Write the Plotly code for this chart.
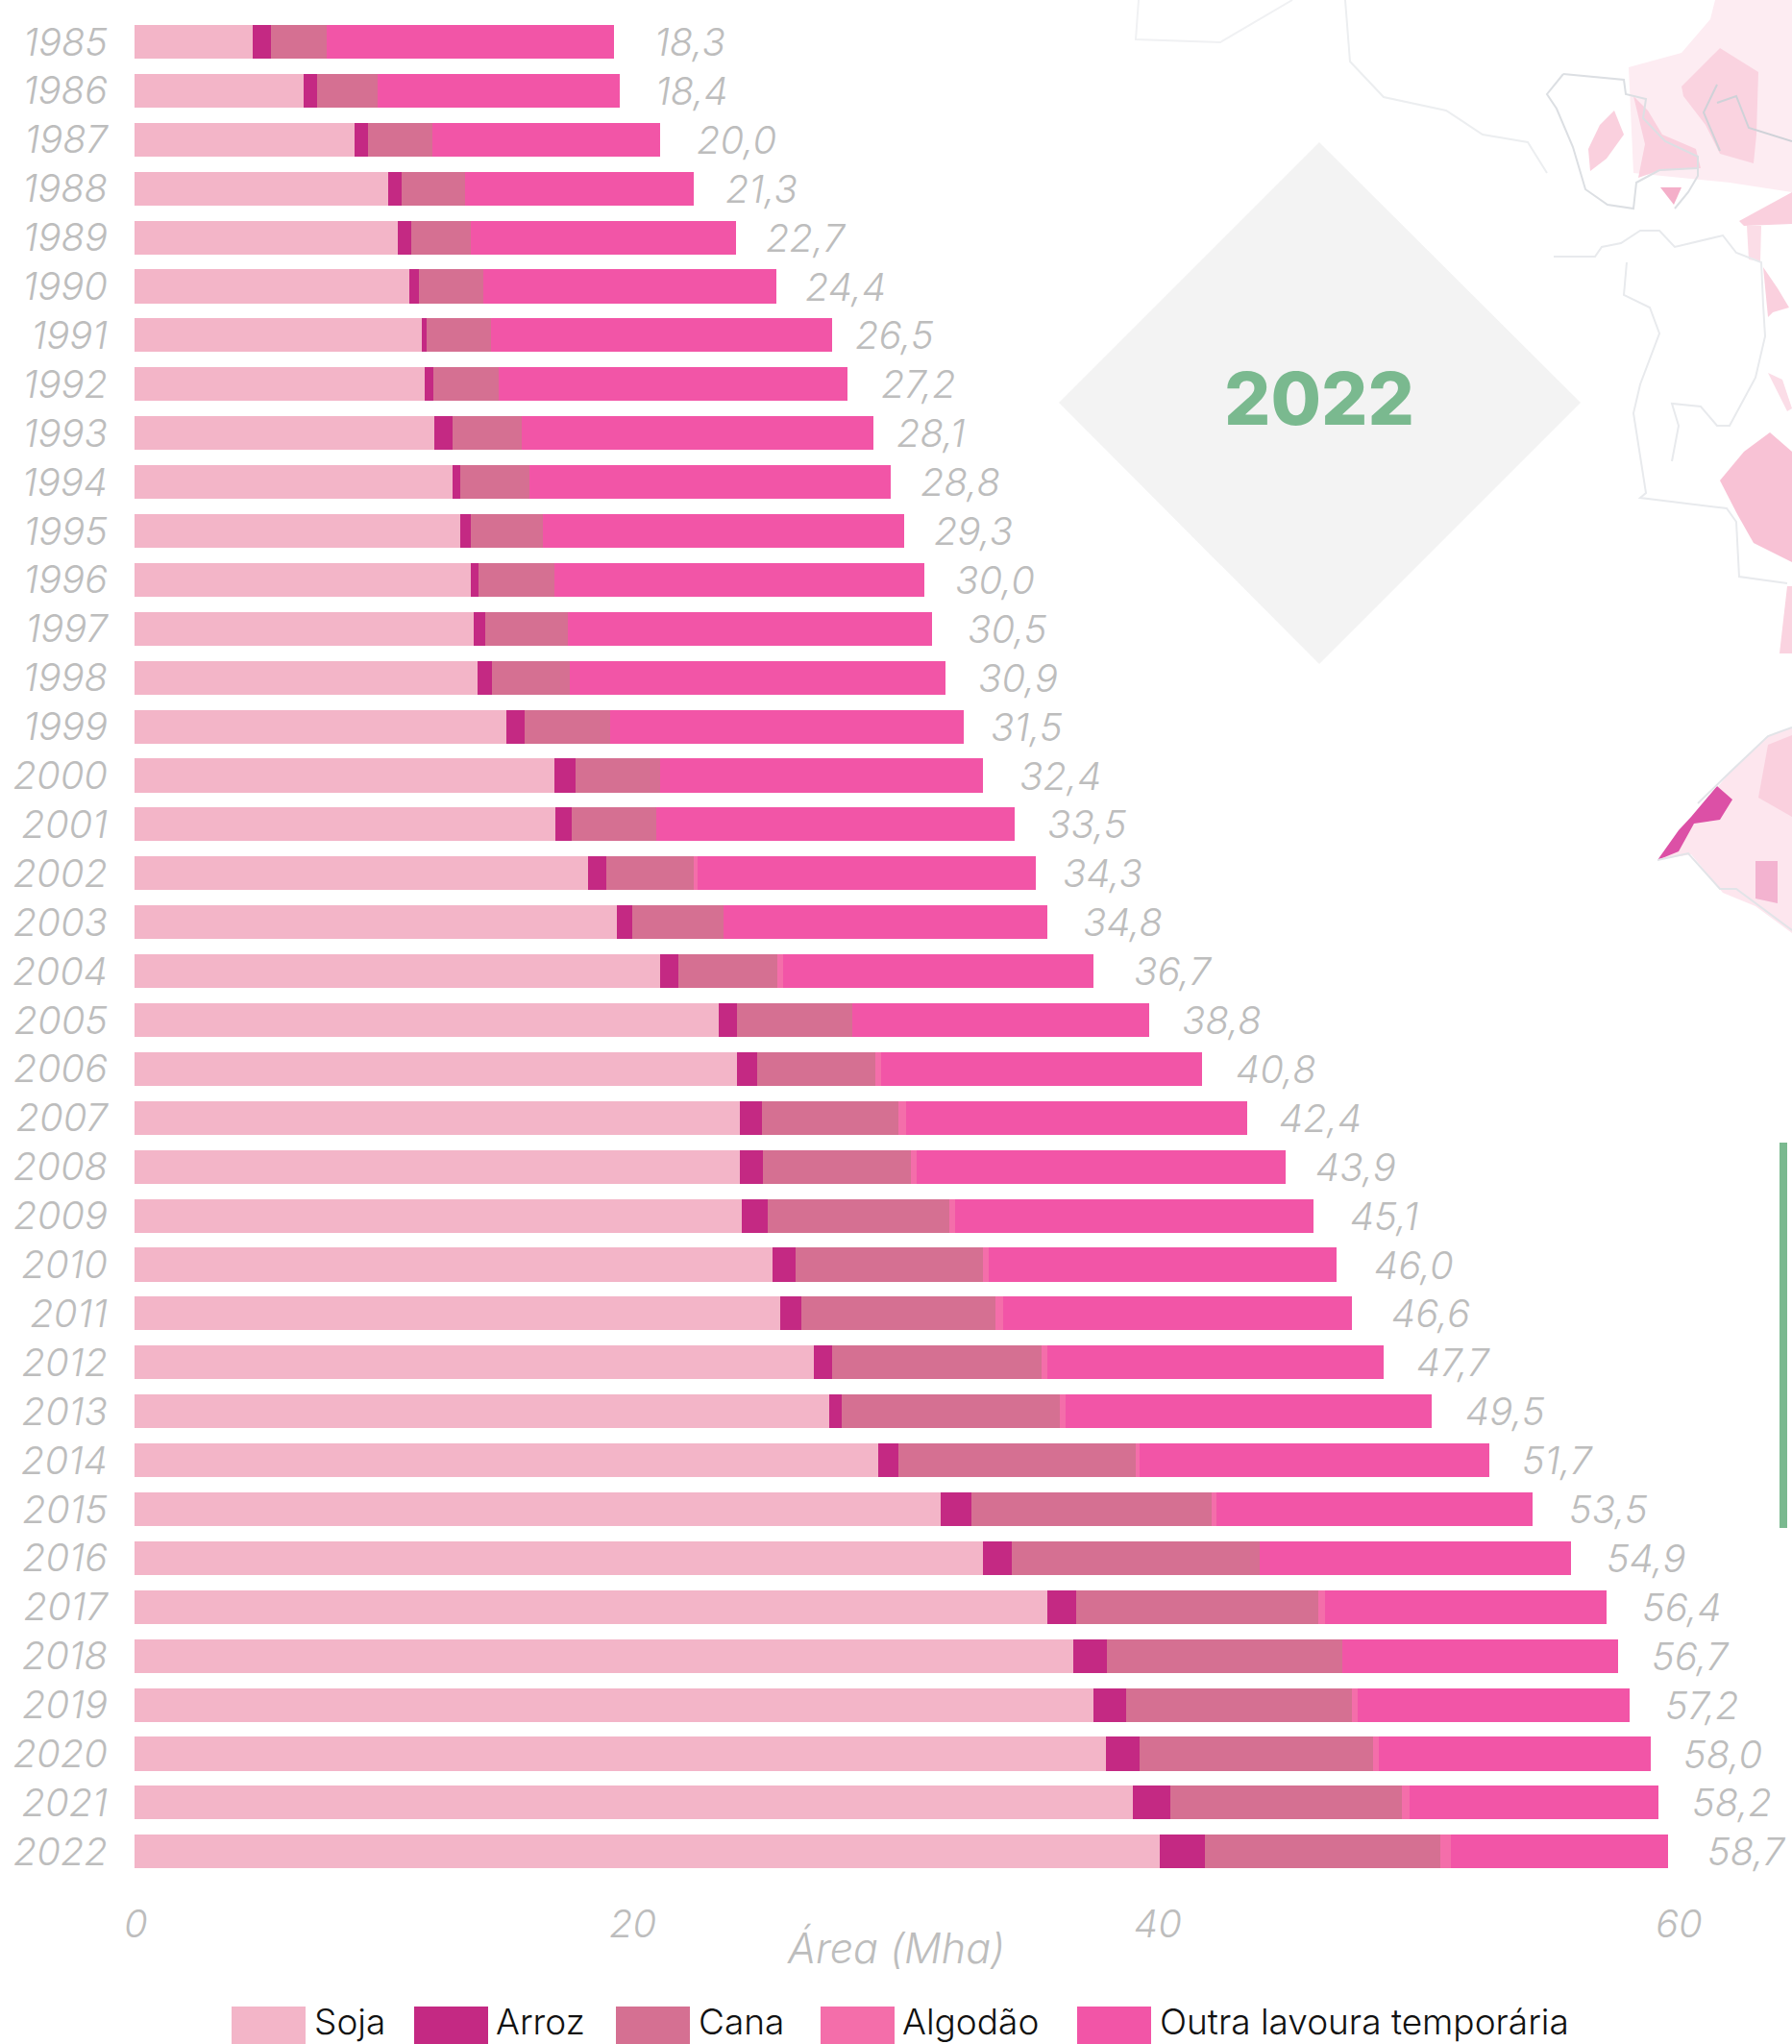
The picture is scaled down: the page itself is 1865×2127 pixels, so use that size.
import plotly.graph_objects as go

W, H = 1865, 2127

years = [str(y) for y in range(1985, 2023)]
soja = [4.52, 6.47, 8.43, 9.71, 10.07, 10.51, 10.99, 11.10, 11.48, 12.18, 12.48, 12.88, 12.98, 13.13, 14.23, 16.08, 16.13, 17.37, 18.47, 20.12,
        22.38, 23.07, 23.18, 23.18, 23.25, 24.43, 24.73, 26.01, 26.60, 28.46, 30.85, 32.50, 34.95, 35.95, 36.71, 37.20, 38.21, 39.26]
arroz = [0.70, 0.51, 0.51, 0.51, 0.52, 0.38, 0.20, 0.36, 0.70, 0.30, 0.40, 0.30, 0.45, 0.55, 0.70, 0.80, 0.60, 0.70, 0.60, 0.70,
         0.69, 0.77, 0.84, 0.89, 1.00, 0.89, 0.80, 0.71, 0.48, 0.80, 1.20, 1.10, 1.10, 1.29, 1.26, 1.29, 1.45, 1.71]
cana = [2.14, 2.32, 2.46, 2.43, 2.29, 2.46, 2.46, 2.49, 2.65, 2.65, 2.75, 2.90, 3.15, 3.00, 3.29, 3.24, 3.24, 3.35, 3.50, 3.79,
        4.42, 4.54, 5.22, 5.67, 6.94, 7.18, 7.45, 8.01, 8.36, 9.08, 9.19, 9.49, 9.28, 8.99, 8.66, 8.92, 8.85, 9.03]
algodao = [0, 0, 0, 0, 0, 0, 0, 0, 0, 0, 0, 0, 0, 0, 0, 0, 0, 0.15, 0, 0.23,
           0, 0.21, 0.30, 0.21, 0.24, 0.21, 0.29, 0.23, 0.21, 0.15, 0.20, 0, 0.25, 0, 0.22, 0.22, 0.30, 0.40]
outra = [10.99, 9.28, 8.72, 8.77, 10.14, 11.21, 13.06, 13.36, 13.48, 13.83, 13.83, 14.17, 13.97, 14.37, 13.53, 12.38, 13.73, 12.93, 12.38, 11.88,
         11.36, 12.29, 13.06, 14.13, 13.71, 13.32, 13.36, 12.87, 14.02, 13.38, 12.08, 11.93, 10.79, 10.59, 10.39, 10.43, 9.53, 8.31]
total_labels = ["18,3", "18,4", "20,0", "21,3", "22,7", "24,4", "26,5", "27,2", "28,1", "28,8", "29,3", "30,0", "30,5", "30,9", "31,5", "32,4", "33,5", "34,3", "34,8", "36,7",
                "38,8", "40,8", "42,4", "43,9", "45,1", "46,0", "46,6", "47,7", "49,5", "51,7", "53,5", "54,9", "56,4", "56,7", "57,2", "58,0", "58,2", "58,7"]
x_ticks = [0, 20, 40, 60]
x_tick_labels = ["0", "20", "40", "60"]

series_names = ["Soja", "Arroz", "Cana", "Algodão", "Outra lavoura temporária"]
series_values = [soja, arroz, cana, algodao, outra]
series_colors = ["#f3b5c8", "#c42983", "#d57092", "#f46eaa", "#f255a7"]

FONT = "Inter"
GREY = "#bdbdbd"
GREEN = "#7ab98f"

# gap in page pixels between each stack and its hand-placed label
label_gaps = [40, 35, 36, 31, 29, 28, 22, 33, 22, 29, 29, 30, 35, 32, 26, 36, 32, 26, 35, 40,
              32, 33, 31, 29, 36, 37, 39, 32, 33, 32, 36, 35, 35, 33, 35, 32, 33, 39]


def px(x):
    return x / W


def py(y):
    return 1 - y / H


# decorative background map (pale patches and outlines), in page pixels
map_patches = [
    ("#fdecf2", [(1695, 70), (1750, 55), (1780, 20), (1785, 0), (1865, 0), (1865, 200), (1800, 190), (1700, 180)]),
    ("#fad3e0", [(1750, 90), (1790, 50), (1830, 75), (1828, 140), (1825, 170), (1790, 160), (1775, 130), (1752, 100)]),
    ("#fad0de", [(1653, 155), (1665, 130), (1680, 115), (1690, 140), (1672, 165), (1655, 178)]),
    ("#fad0de", [(1700, 100), (1715, 115), (1730, 140), (1765, 155), (1770, 175), (1725, 178), (1705, 185), (1712, 150)]),
    ("#f4afc9", [(1728, 195), (1750, 195), (1742, 213)]),
    ("#fad0de", [(1810, 230), (1865, 200), (1865, 233), (1815, 235)]),
    ("#fbdde7", [(1818, 235), (1833, 235), (1832, 272), (1820, 270)]),
    ("#fad0de", [(1835, 278), (1850, 300), (1862, 320), (1845, 325), (1840, 330)]),
    ("#fbdde7", [(1840, 388), (1855, 395), (1865, 425), (1860, 428)]),
    ("#f8c2d5", [(1790, 500), (1815, 470), (1842, 450), (1865, 470), (1865, 585), (1825, 565), (1808, 535)]),
    ("#fad3e0", [(1860, 610), (1865, 610), (1865, 680), (1852, 680)]),
    ("#fde6ee", [(1725, 895), (1800, 804), (1840, 766), (1865, 757), (1865, 971), (1827, 943), (1793, 929), (1760, 889)]),
    ("#fad0de", [(1840, 775), (1865, 765), (1865, 850), (1830, 830)]),
    ("#f3b3d0", [(1827, 896), (1850, 896), (1850, 940), (1827, 935)]),
    ("#dc50a6", [(1725, 895), (1747, 864), (1760, 850), (1787, 818), (1803, 832), (1790, 853), (1763, 857), (1747, 886)]),
]
map_lines = [
    ("#f0f1f3", [(1185, 0), (1182, 41), (1270, 44), (1345, 0)]),
    ("#eceef0", [(1400, 0), (1405, 64), (1440, 101), (1505, 115), (1543, 140), (1590, 148), (1610, 180)]),
    ("#dcdfe3", [(1627, 77), (1690, 83), (1692, 98), (1713, 103), (1710, 123), (1733, 147), (1767, 163), (1767, 183), (1757, 200), (1743, 217)]),
    ("#dcdfe3", [(1627, 77), (1610, 98), (1620, 113), (1637, 153), (1650, 197), (1673, 213), (1700, 217), (1703, 190), (1727, 177), (1767, 175)]),
    ("#e8eaed", [(1617, 267), (1660, 267), (1667, 257), (1687, 253), (1707, 240), (1727, 240), (1743, 257), (1793, 245), (1807, 263), (1833, 273),
                 (1835, 317), (1837, 350), (1827, 393), (1800, 443), (1787, 443), (1770, 423), (1740, 420), (1747, 443), (1740, 480)]),
    ("#e8eaed", [(1693, 273), (1690, 307), (1717, 320), (1727, 347), (1707, 400), (1700, 430), (1713, 513), (1707, 518), (1797, 529),
                 (1807, 543), (1810, 600), (1860, 607)]),
    ("#e2e4e8", [(1725, 895), (1757, 888), (1790, 925), (1807, 925), (1865, 968)]),
    ("#e2e4e8", [(1767, 836), (1800, 804), (1840, 766), (1865, 757)]),
    ("#cfd2d8", [(1787, 88), (1773, 117), (1790, 157)]),
    ("#cfd2d8", [(1787, 107), (1807, 100), (1820, 133), (1865, 147)]),
]


def path(points, close):
    body = " L ".join(f"{px(x):.5f},{py(y):.5f}" for x, y in points)
    return f"M {body}" + (" Z" if close else "")


shapes = []
for color, pts in map_patches:
    shapes.append(dict(type="path", xref="paper", yref="paper", path=path(pts, True), fillcolor=color, line_width=0, layer="below"))
for color, pts in map_lines:
    shapes.append(dict(type="path", xref="paper", yref="paper", path=path(pts, False), line=dict(color=color, width=2), layer="below"))

# year diamond and green side bar
shapes.append(dict(type="path", xref="paper", yref="paper", layer="below", fillcolor="#f3f3f3", line_width=0,
                   path=path([(1102, 419), (1373, 148), (1645, 419), (1373, 691)], True)))
shapes.append(dict(type="rect", xref="paper", yref="paper", layer="below", fillcolor=GREEN, line_width=0,
                   x0=px(1852), x1=px(1860), y0=py(1590), y1=py(1189)))

fig = go.Figure()
for name, vals, color in zip(series_names, series_values, series_colors):
    fig.add_bar(y=years, x=vals, name=name, orientation="h", marker=dict(color=color, line_width=0), showlegend=False)

annotations = []
grey_font = dict(family=FONT, color=GREY, size=40, weight=300, style="italic")

# total labels sit past the end of each stack
for i, (lab, gap) in enumerate(zip(total_labels, label_gaps)):
    stack = sum(s[i] for s in series_values)
    annotations.append(dict(x=stack, y=i, xref="x", yref="y", text=lab, showarrow=False, xanchor="left", yanchor="middle",
                            xshift=gap, font=grey_font))

# x axis labels are set slightly left of their positions in the reference
tick_shifts = [1, -25, -22, -23]
for t, lab, s in zip(x_ticks, x_tick_labels, tick_shifts):
    annotations.append(dict(x=t, y=py(2001), xref="x", yref="paper", text=lab, showarrow=False, xanchor="center", yanchor="middle",
                            xshift=s, font=grey_font))
annotations.append(dict(x=px(932), y=py(2027), xref="paper", yref="paper", text="Área (Mha)", showarrow=False, xanchor="center", yanchor="middle",
                        font=dict(family=FONT, color=GREY, size=43, weight=300, style="italic")))
annotations.append(dict(x=px(1373), y=py(414), xref="paper", yref="paper", text="2022", showarrow=False, xanchor="center", yanchor="middle",
                        font=dict(family=FONT, color=GREEN, size=76, weight=800)))

# legend row
swatch_left = [241, 431, 641, 854, 1121]
swatch_width = [77, 77, 77, 77, 77]
label_left = [325, 514, 725, 937, 1205]
for name, color, sx, sw, lx in zip(series_names, series_colors, swatch_left, swatch_width, label_left):
    shapes.append(dict(type="rect", xref="paper", yref="paper", fillcolor=color, line_width=0,
                       x0=px(sx), x1=px(sx + sw), y0=py(H), y1=py(2088)))
    annotations.append(dict(x=px(lx), y=py(2103), xref="paper", yref="paper", text=name, showarrow=False, xanchor="left", yanchor="middle",
                            font=dict(family=FONT, color="#111111", size=37, weight=300)))

fig.update_layout(
    width=W, height=H, margin=dict(l=0, r=0, t=0, b=0), autosize=False,
    barmode="stack", bargap=0.312,
    paper_bgcolor="white", plot_bgcolor="rgba(0,0,0,0)",
    shapes=shapes, annotations=annotations,
    xaxis=dict(domain=[140 / W, 1], range=[0, 1725 / 27.18], showgrid=False, zeroline=False, showline=False,
               showticklabels=False, ticks="", tickvals=x_ticks, ticktext=x_tick_labels),
    yaxis=dict(domain=[0, 1], type="category", categoryorder="array", categoryarray=years,
               range=[(H - 43.5) / 50.9, -43.5 / 50.9], showgrid=False, zeroline=False, showline=False,
               ticks="", tickmode="array", tickvals=years, ticktext=years, ticklabelstandoff=27,
               tickfont=dict(family=FONT, color=GREY, size=40, weight=300, style="italic")),
)

fig.write_html("out.html", post_script="document.body.style.margin='0';", config=dict(displayModeBar=False))
